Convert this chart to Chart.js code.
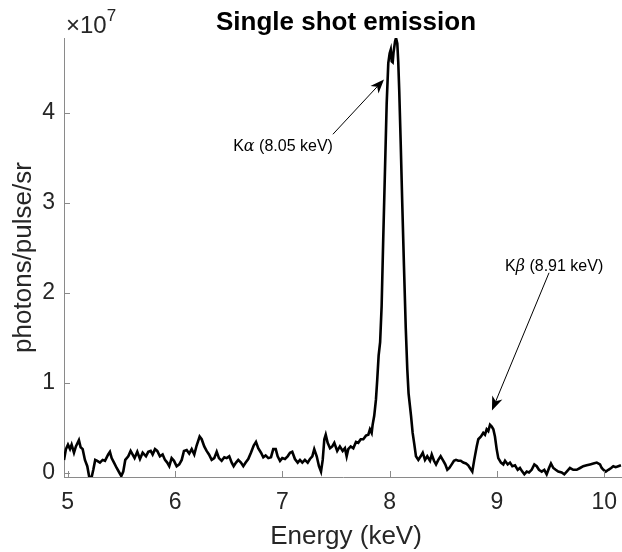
<!DOCTYPE html>
<html>
<head>
<meta charset="utf-8">
<script src="https://cdn.jsdelivr.net/npm/chart.js@4"></script>
<style>
  html, body { margin: 0; padding: 0; background: #fff; }
  #wrap { width: 622px; height: 552px; }
</style>
</head>
<body>
<div id="wrap"><canvas id="mainChart" width="622" height="552"></canvas></div>
<script>
// spectrum, energy in keV, intensity in units of 1e7 photons/pulse/sr
const energyKeV = [
  4.965, 4.983, 5.002, 5.021, 5.036, 5.058, 5.076, 5.104, 5.120, 5.139,
  5.160, 5.182, 5.200, 5.223, 5.238, 5.256, 5.275, 5.300, 5.325, 5.347,
  5.377, 5.393, 5.409, 5.431, 5.456, 5.480, 5.499, 5.517, 5.536, 5.564,
  5.586, 5.605, 5.623, 5.648, 5.673, 5.698, 5.729, 5.750, 5.773, 5.791,
  5.813, 5.834, 5.859, 5.884, 5.906, 5.927, 5.946, 5.968, 5.990, 6.015,
  6.039, 6.062, 6.083, 6.108, 6.132, 6.155, 6.179, 6.201, 6.229, 6.248,
  6.272, 6.294, 6.316, 6.341, 6.365, 6.388, 6.409, 6.434, 6.459, 6.481,
  6.505, 6.528, 6.546, 6.568, 6.589, 6.614, 6.636, 6.658, 6.682, 6.707,
  6.733, 6.754, 6.775, 6.801, 6.822, 6.844, 6.869, 6.894, 6.915, 6.938,
  6.956, 6.978, 6.999, 7.024, 7.049, 7.071, 7.092, 7.117, 7.143, 7.164,
  7.186, 7.210, 7.236, 7.257, 7.279, 7.297, 7.320, 7.341, 7.360, 7.376,
  7.391, 7.404, 7.422, 7.444, 7.465, 7.484, 7.511, 7.536, 7.562, 7.583,
  7.599, 7.614, 7.637, 7.661, 7.686, 7.707, 7.730, 7.754, 7.779, 7.801,
  7.816, 7.832, 7.841, 7.856, 7.872, 7.884, 7.897, 7.911, 7.925, 7.940,
  7.956, 7.972, 7.987, 8.000, 8.010, 8.019, 8.028, 8.036, 8.050, 8.059,
  8.071, 8.080, 8.089, 8.103, 8.117, 8.133, 8.150, 8.164, 8.176, 8.188,
  8.199, 8.214, 8.230, 8.245, 8.267, 8.289, 8.308, 8.329, 8.350, 8.376,
  8.392, 8.413, 8.432, 8.453, 8.475, 8.500, 8.518, 8.537, 8.556, 8.578,
  8.599, 8.618, 8.639, 8.662, 8.686, 8.711, 8.732, 8.748, 8.770, 8.788,
  8.811, 8.826, 8.851, 8.872, 8.888, 8.904, 8.919, 8.935, 8.951, 8.966,
  8.981, 8.997, 9.012, 9.037, 9.059, 9.075, 9.100, 9.121, 9.143, 9.168,
  9.193, 9.214, 9.236, 9.255, 9.277, 9.298, 9.323, 9.348, 9.370, 9.391,
  9.417, 9.441, 9.463, 9.485, 9.503, 9.525, 9.547, 9.571, 9.603, 9.627,
  9.650, 9.680, 9.711, 9.743, 9.774, 9.804, 9.836, 9.867, 9.898, 9.930,
  9.960, 9.976, 9.992, 10.014, 10.038, 10.064, 10.084, 10.106, 10.130, 10.155
];
const intensityE7 = [
  0.14, 0.26, 0.31, 0.26, 0.31, 0.22, 0.29, 0.36, 0.28, 0.26,
  0.14, 0.07, -0.05, -0.05, 0.03, 0.14, 0.13, 0.11, 0.14, 0.13,
  0.20, 0.23, 0.16, 0.11, 0.05, 0.00, -0.04, 0.01, 0.14, 0.18,
  0.24, 0.20, 0.16, 0.23, 0.15, 0.22, 0.18, 0.23, 0.24, 0.20,
  0.26, 0.24, 0.18, 0.20, 0.14, 0.11, 0.07, 0.16, 0.13, 0.07,
  0.09, 0.14, 0.24, 0.25, 0.21, 0.26, 0.20, 0.30, 0.40, 0.37,
  0.29, 0.24, 0.20, 0.14, 0.16, 0.23, 0.16, 0.13, 0.17, 0.16,
  0.18, 0.11, 0.07, 0.11, 0.14, 0.11, 0.07, 0.11, 0.15, 0.22,
  0.30, 0.34, 0.27, 0.22, 0.17, 0.19, 0.16, 0.17, 0.26, 0.26,
  0.18, 0.13, 0.16, 0.15, 0.18, 0.22, 0.23, 0.15, 0.11, 0.14,
  0.11, 0.14, 0.11, 0.15, 0.18, 0.26, 0.18, 0.07, 0.01, 0.14,
  0.37, 0.42, 0.33, 0.27, 0.29, 0.33, 0.24, 0.29, 0.24, 0.27,
  0.18, 0.26, 0.29, 0.27, 0.34, 0.33, 0.37, 0.37, 0.41, 0.42,
  0.48, 0.44, 0.53, 0.63, 0.81, 1.03, 1.30, 1.45, 1.85, 2.60,
  3.35, 4.10, 4.55, 4.66, 4.70, 4.57, 4.56, 4.67, 4.79, 4.83,
  4.77, 4.56, 4.25, 3.65, 3.00, 2.30, 1.60, 1.15, 0.88, 0.75,
  0.63, 0.44, 0.31, 0.18, 0.14, 0.18, 0.22, 0.14, 0.18, 0.13,
  0.20, 0.13, 0.09, 0.14, 0.18, 0.13, 0.09, 0.03, 0.05, 0.09,
  0.13, 0.14, 0.13, 0.13, 0.11, 0.10, 0.08, 0.05, 0.01, 0.14,
  0.29, 0.37, 0.40, 0.44, 0.42, 0.48, 0.46, 0.53, 0.51, 0.48,
  0.40, 0.26, 0.16, 0.11, 0.09, 0.13, 0.09, 0.11, 0.07, 0.08,
  0.03, 0.05, 0.01, -0.02, 0.01, 0.00, 0.03, 0.09, 0.07, 0.03,
  0.01, 0.03, -0.02, 0.05, 0.10, 0.05, 0.03, 0.01, 0.00, -0.02,
  0.01, 0.05, 0.03, 0.03, 0.05, 0.07, 0.08, 0.09, 0.10, 0.11,
  0.09, 0.05, 0.03, 0.01, 0.03, 0.05, 0.07, 0.06, 0.07, 0.08
];
const xTicks = [5, 6, 7, 8, 9, 10];
const yTicks = [0, 1, 2, 3, 4];

// annotations: text + arrow, in data units (keV, 1e7)
const annotations = [
  { pre: 'K', greek: 'α', post: ' (8.05 keV)', textX: 7.471, textY: 3.57, align: 'right',
    tail: [7.471, 3.76], head: [7.947, 4.37] },
  { pre: 'K', greek: 'β', post: ' (8.91 keV)', textX: 9.075, textY: 2.24, align: 'left',
    tail: [9.485, 2.22], head: [8.953, 0.69] }
];

const FONT = '"Liberation Sans", Arial, Helvetica, sans-serif';
const axisGray = '#8a8a8a';
const textGray = '#262626';

function drawArrow(ctx, x1, y1, x2, y2) {
  const ang = Math.atan2(y2 - y1, x2 - x1);
  const len = 14, half = 5.5, notch = 4;
  const ux = Math.cos(ang), uy = Math.sin(ang);
  ctx.beginPath();
  ctx.moveTo(x1, y1);
  ctx.lineTo(x2 - ux * (len - notch), y2 - uy * (len - notch));
  ctx.lineWidth = 1;
  ctx.stroke();
  ctx.beginPath();
  ctx.moveTo(x2, y2);
  ctx.lineTo(x2 - ux * len - uy * half, y2 - uy * len + ux * half);
  ctx.lineTo(x2 - ux * (len - notch), y2 - uy * (len - notch));
  ctx.lineTo(x2 - ux * len + uy * half, y2 - uy * len - ux * half);
  ctx.closePath();
  ctx.fill();
}

const decor = {
  id: 'decor',
  afterDraw(chart) {
    const { ctx, chartArea: a, scales: { x, y } } = chart;
    ctx.save();

    // inward tick marks
    ctx.strokeStyle = axisGray;
    ctx.lineWidth = 1;
    xTicks.forEach(v => {
      const px = Math.round(x.getPixelForValue(v)) + 0.5;
      ctx.beginPath(); ctx.moveTo(px, a.bottom); ctx.lineTo(px, a.bottom - 6); ctx.stroke();
    });
    yTicks.forEach(v => {
      const py = Math.round(y.getPixelForValue(v)) + 0.5;
      ctx.beginPath(); ctx.moveTo(a.left, py); ctx.lineTo(a.left + 6, py); ctx.stroke();
    });

    // title
    ctx.fillStyle = '#000';
    ctx.textAlign = 'center';
    ctx.textBaseline = 'alphabetic';
    ctx.font = 'bold 26px ' + FONT;
    ctx.fillText('Single shot emission', 346, 30);

    // exponent
    ctx.fillStyle = textGray;
    ctx.textAlign = 'left';
    ctx.font = '24px ' + FONT;
    ctx.fillText('×10', 66, 33);
    const w = ctx.measureText('×10').width;
    ctx.font = '17px ' + FONT;
    ctx.fillText('7', 66 + w, 21);

    // axis titles
    ctx.font = '26px ' + FONT;
    ctx.textAlign = 'center';
    ctx.fillText('Energy (keV)', 346, 544);
    ctx.save();
    ctx.translate(31, (a.top + a.bottom) / 2);
    ctx.rotate(-Math.PI / 2);
    ctx.fillText('photons/pulse/sr', 0, 0);
    ctx.restore();

    // annotations
    ctx.fillStyle = '#000';
    ctx.strokeStyle = '#000';
    annotations.forEach(an => {
      const f1 = '16px ' + FONT, f2 = 'italic 16px "DejaVu Serif", serif';
      ctx.font = f1; const w1 = ctx.measureText(an.pre).width;
      const w3 = ctx.measureText(an.post).width;
      ctx.font = f2; const w2 = ctx.measureText(an.greek).width;
      const total = w1 + w2 + w3;
      let tx = x.getPixelForValue(an.textX);
      if (an.align === 'right') tx -= total;
      const ty = y.getPixelForValue(an.textY);
      ctx.textAlign = 'left';
      ctx.font = f1; ctx.fillText(an.pre, tx, ty);
      ctx.font = f2; ctx.fillText(an.greek, tx + w1, ty);
      ctx.font = f1; ctx.fillText(an.post, tx + w1 + w2, ty);
      drawArrow(ctx,
        x.getPixelForValue(an.tail[0]), y.getPixelForValue(an.tail[1]),
        x.getPixelForValue(an.head[0]), y.getPixelForValue(an.head[1]));
    });

    ctx.restore();
  }
};

new Chart(document.getElementById('mainChart'), {
  type: 'line',
  data: {
    datasets: [{
      data: energyKeV.map((e, i) => ({ x: e, y: intensityE7[i] })),
      borderColor: '#000',
      borderWidth: 2.6,
      pointRadius: 0,
      tension: 0,
      fill: false
    }]
  },
  options: {
    responsive: false,
    animation: false,
    layout: { padding: { top: 38, right: 0, left: 0, bottom: 0 } },
    plugins: { legend: { display: false }, tooltip: { enabled: false }, title: { display: false } },
    scales: {
      x: {
        type: 'linear',
        min: 4.965,
        max: 10.165,
        afterBuildTicks: s => { s.ticks = xTicks.map(v => ({ value: v })); },
        afterFit: s => { s.height = 75; s.paddingLeft = 0; s.paddingRight = 0; },
        grid: { drawOnChartArea: false, drawTicks: false },
        border: { display: true, color: axisGray, width: 1 },
        ticks: { color: textGray, font: { size: 23, family: FONT }, padding: 12, maxRotation: 0,
                 callback: v => String(v) }
      },
      y: {
        type: 'linear',
        min: -0.05,
        max: 4.83,
        afterBuildTicks: s => { s.ticks = yTicks.map(v => ({ value: v })); },
        afterFit: s => { s.width = 64; s.paddingTop = 0; s.paddingBottom = 0; },
        grid: { drawOnChartArea: false, drawTicks: false },
        border: { display: true, color: axisGray, width: 1 },
        ticks: { color: textGray, font: { size: 23, family: FONT }, padding: 9,
                 callback: v => String(v) }
      }
    }
  },
  plugins: [decor]
});
</script>
</body>
</html>
